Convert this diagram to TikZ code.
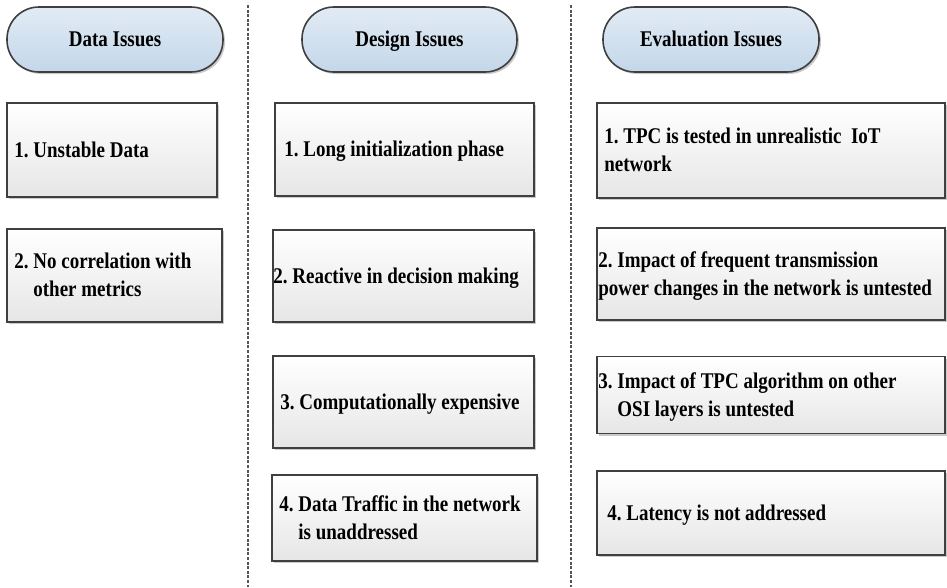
\documentclass[tikz,border=0pt]{standalone}
\usepackage{fontspec}
\usepackage{graphicx}
\setmainfont{Liberation Serif}
\usetikzlibrary{shadows}
\definecolor{hdtop}{HTML}{E2EBF4}
\definecolor{hdbot}{HTML}{C3D7EA}
\definecolor{bxbot}{HTML}{E6E6E6}
\definecolor{edge}{HTML}{3F3F3F}
\definecolor{sepcol}{HTML}{555555}
\frenchspacing
\newcommand\tbox[1]{\scalebox{1}[1.18]{\begin{tabular}{@{}l@{}}#1\end{tabular}}}
\newcommand\htxt[1]{\scalebox{1}[1.18]{#1}}
\tikzset{
  hdr/.style={draw=edge, line width=1.6pt, rounded corners=32pt, inner sep=0pt,
    top color=hdtop, bottom color=hdbot, minimum height=65pt,
    text height=15pt, text depth=1pt,
    drop shadow={shadow xshift=2pt, shadow yshift=-2pt, fill=black!35, opacity=0.6},
    font=\fontsize{19}{23}\selectfont\bfseries},
  issuebox/.style={draw=edge, line width=1.6pt, inner sep=0pt,
    top color=white, bottom color=bxbot,
    drop shadow={shadow xshift=2pt, shadow yshift=-2pt, fill=black!35, opacity=0.6}},
  txt/.style={anchor=west, inner sep=0pt, yshift=-1.5pt,
    font=\fontsize{19}{23.7}\selectfont\bfseries\frenchspacing},
  sepline/.style={draw=sepcol, line width=1.8pt, dash pattern=on 3pt off 1.6pt}
}
\begin{document}
\begin{tikzpicture}[x=1pt,y=-1pt]
\path[use as bounding box] (0,0) rectangle (947,587);
% separators
\coordinate (la) at (248,5);
\coordinate (lb) at (248,587);
\coordinate (ma) at (571,5);
\coordinate (mb) at (571,587);
\draw[sepline] (la) -- (lb);
\draw[sepline] (ma) -- (mb);
% headers
\node[hdr, minimum width=216pt] (h1) at (115,39.5) {\htxt{Data Issues}};
\node[hdr, minimum width=215pt] (h2) at (409.5,39.5) {\htxt{Design Issues}};
\node[hdr, minimum width=216pt] (h3) at (711,39.5) {\htxt{Evaluation Issues}};
% data column
\node[issuebox, minimum width=210pt, minimum height=94pt] (d1) at (112,150) {};
\node[issuebox, minimum width=215pt, minimum height=93pt] (d2) at (114.5,275.5) {};
\node[txt] (d1t) at ([xshift=8pt]d1.west) {\tbox{1. Unstable Data}};
\node[txt] (d2t) at ([xshift=8pt]d2.west) {\tbox{2. No correlation with\\\hphantom{2. }other metrics}};
% design column
\node[issuebox, minimum width=259pt, minimum height=93pt] (s1) at (404.5,149.5) {};
\node[issuebox, minimum width=261pt, minimum height=92pt] (s2) at (403.5,276) {};
\node[issuebox, minimum width=261pt, minimum height=92pt] (s3) at (403.5,402) {};
\node[issuebox, minimum width=265pt, minimum height=86pt] (s4) at (404.5,518) {};
\node[txt] (s1t) at ([xshift=10pt]s1.west) {\tbox{1. Long initialization phase}};
\node[txt] (s2t) at ([xshift=1pt]s2.west) {\tbox{2. Reactive in decision making}};
\node[txt] (s3t) at ([xshift=8pt]s3.west) {\tbox{3. Computationally expensive}};
\node[txt] (s4t) at ([xshift=8pt]s4.west) {\tbox{4. Data Traffic in the network\\\hphantom{4. }is unaddressed}};
% evaluation column
\node[issuebox, minimum width=348pt, minimum height=95pt] (e1) at (771,150.5) {};
\node[issuebox, minimum width=348pt, minimum height=92pt] (e2) at (771,274) {};
\node[issuebox, minimum width=348pt, minimum height=77pt] (e3) at (771,395) {};
\node[issuebox, minimum width=348pt, minimum height=84pt] (e4) at (771,513) {};
\node[txt] (e1t) at ([xshift=8pt]e1.west) {\tbox{1. TPC is tested in unrealistic\ \ IoT\\network}};
\node[txt] (e2t) at ([xshift=2pt]e2.west) {\tbox{2. Impact of frequent transmission\\power changes in the network is untested}};
\node[txt] (e3t) at ([xshift=2pt]e3.west) {\tbox{3. Impact of TPC algorithm on other\\\hphantom{3. }OSI layers is untested}};
\node[txt] (e4t) at ([xshift=11pt]e4.west) {\tbox{4. Latency is not addressed}};
\end{tikzpicture}
\end{document}
